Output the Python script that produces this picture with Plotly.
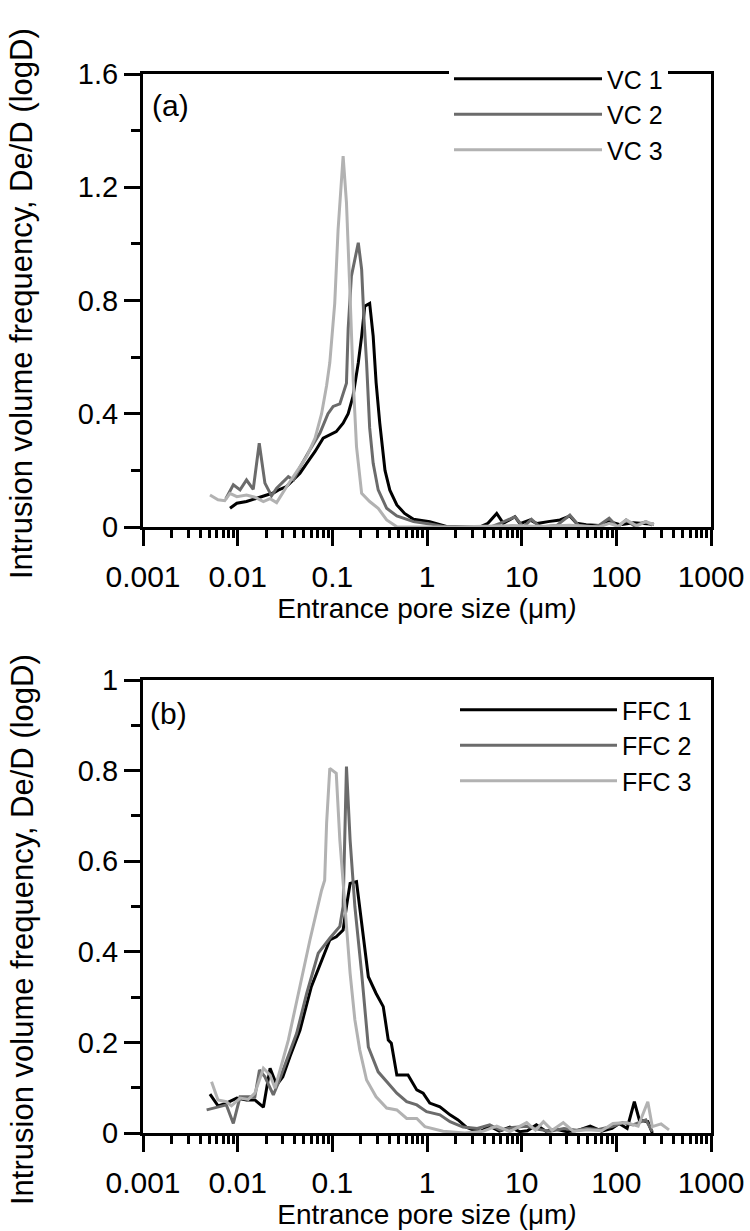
import plotly.graph_objects as go

# Pore size (um) and intrusion volume frequency De/D(logD)
vc1_x = [0.0083, 0.0098, 0.0124, 0.0158, 0.0203, 0.0238, 0.0268, 0.0328, 0.0388, 0.0455,
         0.0536, 0.0657, 0.080, 0.094, 0.110, 0.130, 0.147, 0.165, 0.188, 0.204,
         0.22, 0.248, 0.27, 0.29, 0.317, 0.36, 0.405, 0.48, 0.58, 0.72,
         1.07, 1.6, 2.2, 3.0, 3.6, 4.4, 5.45, 6.4, 8.5, 9.6,
         12.3, 14.5, 19, 25.4, 32.3, 38, 48, 66, 84, 110, 152, 205, 250]
vc1_y = [0.066, 0.084, 0.09, 0.10, 0.113, 0.12, 0.13, 0.143, 0.166, 0.19,
         0.225, 0.267, 0.314, 0.326, 0.337, 0.367, 0.40, 0.46, 0.58, 0.674,
         0.78, 0.79, 0.674, 0.51, 0.367, 0.20, 0.13, 0.078, 0.048, 0.027,
         0.019, 0.002, 0.0, 0.0, 0.0, 0.013, 0.048, 0.013, 0.036, 0.012,
         0.025, 0.012, 0.019, 0.025, 0.039, 0.013, 0.008, 0.005, 0.019, 0.008, 0.015, 0.012, 0.01]

vc2_x = [0.0075, 0.009, 0.0106, 0.0124, 0.0146, 0.0169, 0.0194, 0.0228, 0.0258, 0.0303,
         0.0343, 0.0388, 0.0455, 0.058, 0.074, 0.090, 0.102, 0.12, 0.141, 0.147,
         0.159, 0.188, 0.204, 0.215, 0.23, 0.248, 0.27, 0.305, 0.375, 0.48,
         0.72, 1.07, 1.6, 2.5, 3.5, 4.7, 5.9, 8.5, 10.4, 12.7,
         15.6, 23.4, 32.3, 40, 53, 66, 84, 103, 127, 155, 205, 240]
vc2_y = [0.10, 0.149, 0.131, 0.166, 0.133, 0.296, 0.155, 0.11, 0.137, 0.16,
         0.178, 0.166, 0.211, 0.273, 0.332, 0.40, 0.426, 0.435, 0.508, 0.70,
         0.886, 1.004, 0.91, 0.744, 0.58, 0.35, 0.225, 0.131, 0.066, 0.039,
         0.019, 0.011, 0.0, 0.0, 0.0, 0.0, 0.013, 0.036, 0.0, 0.027,
         0.0, 0.005, 0.042, 0.005, 0.0, 0.006, 0.031, 0.0, 0.025, 0.004, 0.019, 0.006]

vc3_x = [0.0051, 0.0062, 0.0073, 0.0083, 0.0098, 0.0124, 0.0152, 0.0187, 0.022, 0.0258,
         0.033, 0.042, 0.0536, 0.0657, 0.077, 0.087, 0.094, 0.106, 0.115, 0.13,
         0.141, 0.154, 0.166, 0.18, 0.204, 0.248, 0.305, 0.375, 0.48, 0.7,
         1.0, 2.0, 4.0, 8.0, 16, 32, 66, 84, 105, 127, 165, 205, 250]
vc3_y = [0.113, 0.096, 0.093, 0.119, 0.107, 0.113, 0.105, 0.09, 0.10, 0.086,
         0.143, 0.196, 0.249, 0.314, 0.40, 0.50, 0.58, 0.79, 1.05, 1.31,
         1.146, 0.815, 0.52, 0.284, 0.119, 0.09, 0.066, 0.025, 0.001, 0.0,
         0.0, 0.0, 0.003, 0.005, 0.002, 0.006, 0.0, 0.013, 0.002, 0.025, 0.004, 0.019, 0.008]

ffc1_x = [0.0051, 0.0062, 0.0076, 0.0098, 0.0124, 0.0152, 0.0187, 0.022, 0.0258, 0.030,
          0.0357, 0.0455, 0.06, 0.077, 0.094, 0.11, 0.13, 0.141, 0.154, 0.18,
          0.204, 0.24, 0.29, 0.345, 0.39, 0.42, 0.48, 0.63, 0.78, 0.91,
          1.07, 1.37, 1.75, 2.13, 2.6, 3.05, 3.7, 4.6, 5.8, 7.5,
          9.5, 11.5, 14.3, 18, 23, 30, 40, 53, 70, 90,
          107, 130, 155, 175, 215, 240]
ffc1_y = [0.086, 0.06, 0.066, 0.077, 0.073, 0.073, 0.057, 0.143, 0.106, 0.124,
          0.169, 0.227, 0.323, 0.382, 0.426, 0.433, 0.448, 0.50, 0.551, 0.555,
          0.463, 0.345, 0.308, 0.279, 0.205, 0.198, 0.128, 0.128, 0.095, 0.088,
          0.066, 0.058, 0.04, 0.029, 0.013, 0.007, 0.004, 0.015, 0.004, 0.013,
          0.003, 0.005, 0.018, 0.004, 0.008, 0.003, 0.006, 0.015, 0.004, 0.01,
          0.021, 0.01, 0.069, 0.029, 0.025, 0.0]

ffc2_x = [0.0047, 0.0062, 0.0076, 0.009, 0.0106, 0.0129, 0.0152, 0.017, 0.0194, 0.0238,
          0.0268, 0.033, 0.042, 0.0536, 0.071, 0.094, 0.12, 0.13, 0.136, 0.141,
          0.154, 0.173, 0.204, 0.24, 0.305, 0.39, 0.48, 0.61, 0.78, 0.99,
          1.37, 1.75, 2.4, 3.4, 4.6, 6.0, 8.0, 11.3, 15, 20,
          28, 38, 48, 65, 92, 117, 150, 205, 240]
ffc2_y = [0.051, 0.057, 0.062, 0.021, 0.08, 0.08, 0.08, 0.139, 0.124, 0.084,
          0.11, 0.161, 0.22, 0.308, 0.397, 0.43, 0.456, 0.50, 0.647, 0.809,
          0.647, 0.50, 0.353, 0.19, 0.135, 0.11, 0.088, 0.069, 0.062, 0.047,
          0.04, 0.025, 0.013, 0.01, 0.018, 0.006, 0.012, 0.015, 0.008, 0.004,
          0.01, 0.006, 0.01, 0.008, 0.015, 0.023, 0.018, 0.029, 0.003]

ffc3_x = [0.0053, 0.0062, 0.0076, 0.0086, 0.0106, 0.0129, 0.0152, 0.0187, 0.022, 0.0248,
          0.029, 0.0343, 0.040, 0.058, 0.077, 0.083, 0.087, 0.094, 0.11, 0.12,
          0.136, 0.154, 0.173, 0.195, 0.23, 0.29, 0.375, 0.48, 0.61, 0.78,
          0.95, 1.48, 2.5, 3.9, 5.45, 7.5, 11.3, 14, 17, 21,
          27.5, 35, 50, 70, 92, 127, 170, 215, 240, 297, 360]
ffc3_y = [0.113, 0.073, 0.069, 0.06, 0.077, 0.074, 0.088, 0.143, 0.128, 0.099,
          0.15, 0.205, 0.27, 0.426, 0.536, 0.558, 0.684, 0.805, 0.794, 0.647,
          0.50, 0.353, 0.25, 0.183, 0.117, 0.08, 0.055, 0.051, 0.032, 0.032,
          0.014, 0.004, 0.0, 0.004, 0.015, 0.003, 0.023, 0.006, 0.025, 0.006,
          0.023, 0.004, 0.007, 0.005, 0.021, 0.023, 0.015, 0.069, 0.014, 0.02, 0.007]

x_tickvals = [0.001, 0.01, 0.1, 1, 10, 100, 1000]
x_ticktext = ["0.001", "0.01", "0.1", "1", "10", "100", "1000"]
top_yticks = [0, 0.4, 0.8, 1.2, 1.6]
top_ytext = ["0", "0.4", "0.8", "1.2", "1.6"]
bot_yticks = [0, 0.2, 0.4, 0.6, 0.8, 1.0]
bot_ytext = ["0", "0.2", "0.4", "0.6", "0.8", "1"]

COLORS = ["#000000", "#6b6b6b", "#b2b2b2"]
FONT = "Liberation Sans, Arial, sans-serif"
LW = 3

fig = go.Figure()
for (xs, ys, name, col) in [(vc1_x, vc1_y, "VC 1", COLORS[0]),
                            (vc2_x, vc2_y, "VC 2", COLORS[1]),
                            (vc3_x, vc3_y, "VC 3", COLORS[2])]:
    fig.add_trace(go.Scatter(x=xs, y=ys, name=name, mode="lines",
                             line=dict(color=col, width=LW),
                             xaxis="x", yaxis="y", legend="legend"))
for (xs, ys, name, col) in [(ffc1_x, ffc1_y, "FFC 1", COLORS[0]),
                            (ffc2_x, ffc2_y, "FFC 2", COLORS[1]),
                            (ffc3_x, ffc3_y, "FFC 3", COLORS[2])]:
    fig.add_trace(go.Scatter(x=xs, y=ys, name=name, mode="lines",
                             line=dict(color=col, width=LW),
                             xaxis="x2", yaxis="y2", legend="legend2"))

W, H = 750, 1231
x_dom = [143 / W, 711 / W]
top_dom = [1 - 527 / H, 1 - 74 / H]
bot_dom = [1 - 1133 / H, 1 - 680 / H]

minor_x = [m * 10 ** e for e in range(-3, 3) for m in range(2, 10)]


def xaxis_cfg(anchor, domain):
    return dict(type="log", range=[-3, 3], domain=domain, anchor=anchor,
                automargin=False,
                tickmode="array", tickvals=x_tickvals, ticktext=x_ticktext,
                ticks="outside", ticklen=16, tickwidth=3, tickcolor="black",
                ticklabelstandoff=5,
                minor=dict(tickmode="array", tickvals=minor_x, ticks="outside",
                           ticklen=8, tickwidth=2.5, tickcolor="black"),
                showline=True, linewidth=3, linecolor="black", mirror=True,
                showgrid=False, zeroline=False,
                tickfont=dict(family=FONT, size=30, color="black"),
                title=dict(text="Entrance pore size (μm<i>)</i>",
                           font=dict(family=FONT, size=28, color="black"),
                           standoff=6))


def yaxis_cfg(anchor, domain, rng, tv, tt, minor_dt):
    return dict(range=rng, domain=domain, anchor=anchor,
                automargin=False,
                tickmode="array", tickvals=tv, ticktext=tt,
                ticks="outside", ticklen=16, tickwidth=3, tickcolor="black",
                minor=dict(dtick=minor_dt, tick0=0, ticks="outside",
                           ticklen=9, tickwidth=3, tickcolor="black"),
                showline=True, linewidth=3, linecolor="black", mirror=True,
                showgrid=False, zeroline=False,
                tickfont=dict(family=FONT, size=29, color="black"))


fig.update_layout(
    width=W, height=H,
    margin=dict(l=0, r=0, t=0, b=0, autoexpand=False),
    paper_bgcolor="white", plot_bgcolor="white",
    font=dict(family=FONT, color="black"),
    xaxis=xaxis_cfg("y", x_dom),
    yaxis=yaxis_cfg("x", top_dom, [0, 1.6], top_yticks, top_ytext, 0.2),
    xaxis2=xaxis_cfg("y2", x_dom),
    yaxis2=yaxis_cfg("x2", bot_dom, [0, 1.0], bot_yticks, bot_ytext, 0.1),
    legend=dict(x=449 / W, y=1 - 56 / H, xanchor="left", yanchor="top",
                bgcolor="white", itemwidth=148,
                font=dict(family=FONT, size=25, color="black")),
    legend2=dict(x=455 / W, y=1 - 687 / H, xanchor="left", yanchor="top",
                 bgcolor="rgba(0,0,0,0)", itemwidth=157,
                 font=dict(family=FONT, size=25, color="black")),
    annotations=[
        dict(text="(a)", x=150 / W, y=1 - 105 / H, xref="paper", yref="paper",
             xanchor="left", yanchor="middle", showarrow=False,
             font=dict(family=FONT, size=30, color="black")),
        dict(text="(b)", x=148 / W, y=1 - 713 / H, xref="paper", yref="paper",
             xanchor="left", yanchor="middle", showarrow=False,
             font=dict(family=FONT, size=30, color="black")),
        dict(text="Intrusion volume frequency, De/D (logD)", textangle=-90,
             x=22 / W, y=1 - 304 / H, xref="paper", yref="paper",
             xanchor="center", yanchor="middle", showarrow=False,
             font=dict(family=FONT, size=31, color="black")),
        dict(text="Intrusion volume frequency, De/D (logD)", textangle=-90,
             x=22 / W, y=1 - 930 / H, xref="paper", yref="paper",
             xanchor="center", yanchor="middle", showarrow=False,
             font=dict(family=FONT, size=31, color="black")),
    ],
)

fig.write_html("out.html")
